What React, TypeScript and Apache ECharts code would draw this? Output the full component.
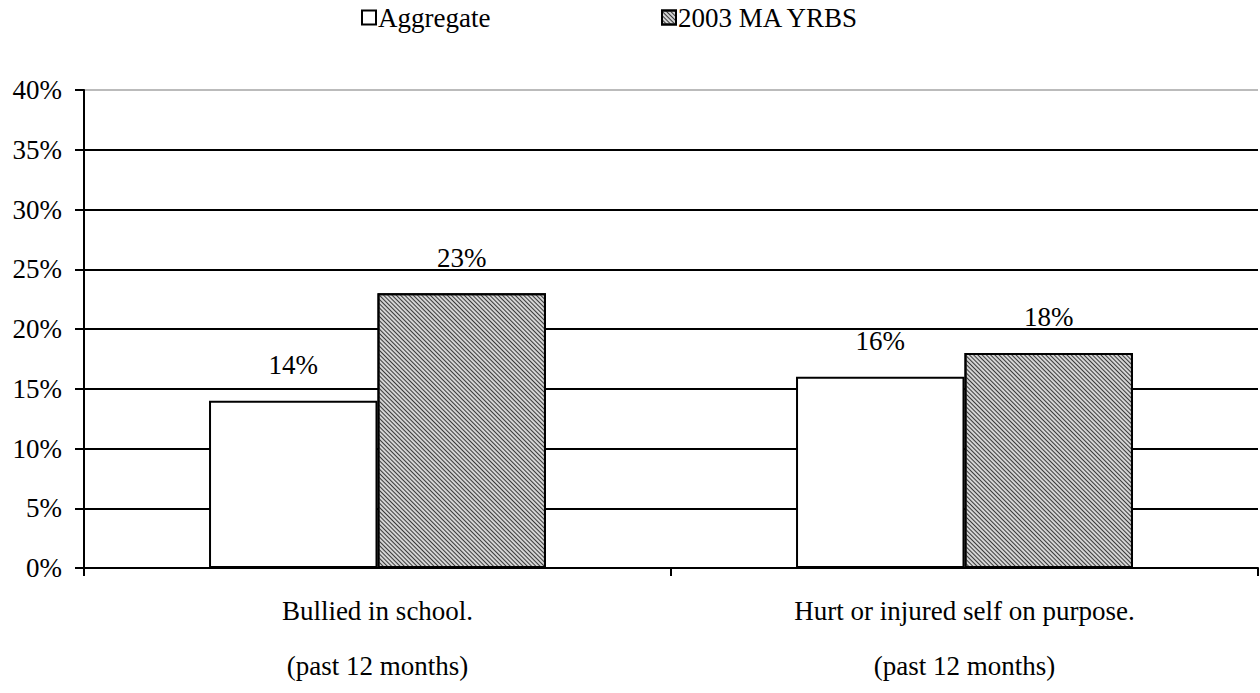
import React, { useEffect, useRef } from "react";
import * as echarts from "echarts";

const categories = ["Bullied in school.\n(past 12 months)", "Hurt or injured self on purpose.\n(past 12 months)"];
const aggregate = [14, 16];
const yrbs = [23, 18];
const seriesNames = ["Aggregate", "2003 MA YRBS"];

const FONT = "'Liberation Serif', 'Times New Roman', serif";
const FS = 27;

export default function App() {
  const ref = useRef<HTMLDivElement>(null);
  useEffect(() => {
    if (!ref.current) return;
    const chart = echarts.init(ref.current, null, { renderer: "svg" });
    const hatch = {
      symbol: "rect",
      symbolSize: 1,
      dashArrayX: [1, 0],
      dashArrayY: [1, 1.2],
      rotation: Math.PI / 4,
      color: "#3a3a3a",
    };
    const legendText = { fontFamily: FONT, fontSize: FS, color: "#000", padding: [0, 0, 0, -3] };
    chart.setOption({
      animation: false,
      textStyle: { fontFamily: FONT },
      grid: { left: 84, right: 2, top: 90, bottom: 120 },
      legend: [
        {
          data: [{ name: seriesNames[0], icon: "rect" }],
          left: 356,
          top: -1,
          itemWidth: 14,
          itemHeight: 14,
          textStyle: legendText,
        },
        {
          data: [{ name: seriesNames[1], icon: "rect" }],
          left: 656,
          top: -1,
          itemWidth: 14,
          itemHeight: 14,
          textStyle: legendText,
        },
      ],
      xAxis: {
        type: "category",
        data: categories,
        axisLine: { lineStyle: { color: "#000", width: 2 } },
        axisTick: { show: true, length: 8, lineStyle: { color: "#000", width: 2 } },
        axisLabel: {
          fontFamily: FONT,
          fontSize: FS,
          color: "#000",
          lineHeight: 55,
          margin: 15,
        },
      },
      yAxis: {
        type: "value",
        min: 0,
        max: 40,
        interval: 5,
        axisLine: { show: true, lineStyle: { color: "#000", width: 2 } },
        axisTick: { show: true, length: 9, lineStyle: { color: "#000", width: 2 } },
        axisLabel: {
          formatter: "{value}%",
          fontFamily: FONT,
          fontSize: FS,
          color: "#000",
          margin: 22,
        },
        splitLine: {
          show: true,
          lineStyle: {
            color: ["#000", "#000", "#000", "#000", "#000", "#000", "#000", "#000", "#bbb"],
            width: 2,
          },
        },
      },
      series: [
        {
          name: seriesNames[0],
          type: "bar",
          data: aggregate,
          barWidth: "28.7%",
          barGap: "0%",
          itemStyle: { color: "#fff", borderColor: "#000", borderWidth: 2 },
          label: {
            show: true,
            position: "top",
            distance: 22,
            formatter: "{c}%",
            fontFamily: FONT,
            fontSize: FS,
            color: "#000",
          },
        },
        {
          name: seriesNames[1],
          type: "bar",
          data: yrbs,
          barWidth: "28.7%",
          itemStyle: { color: "#d4d4d4", borderColor: "#000", borderWidth: 2, decal: hatch },
          label: {
            show: true,
            position: "top",
            distance: 22,
            formatter: "{c}%",
            fontFamily: FONT,
            fontSize: FS,
            color: "#000",
          },
        },
      ],
    });
    return () => chart.dispose();
  }, []);
  return <div ref={ref} style={{ width: 1260, height: 693, position: "absolute", left: 0, top: 0 }} />;
}
